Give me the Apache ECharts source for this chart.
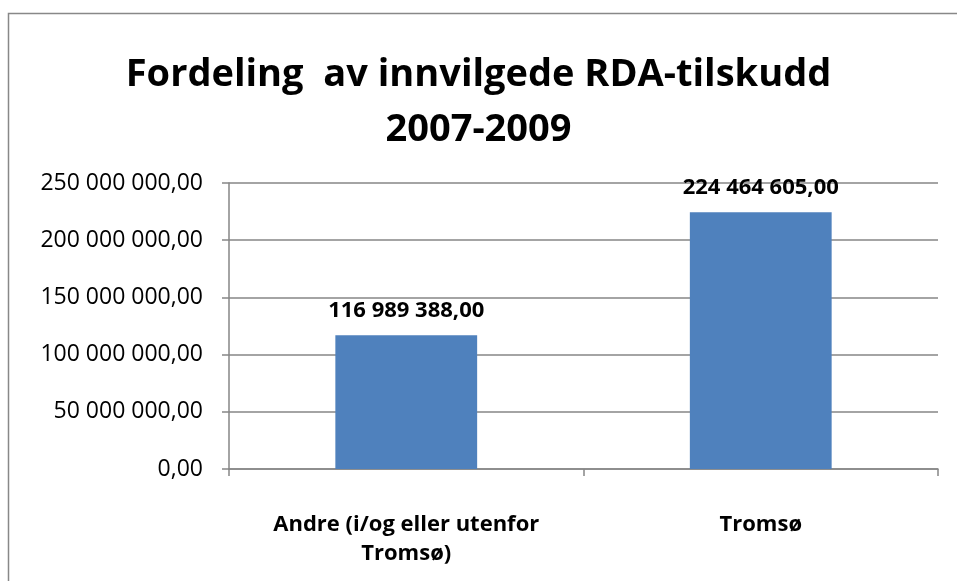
<!DOCTYPE html>
<html>
<head>
<meta charset="utf-8">
<script src="https://cdn.jsdelivr.net/npm/echarts@6/dist/echarts.min.js"></script>
<style>
  html, body { margin: 0; padding: 0; background: #fff; }
  #chart { width: 957px; height: 581px; }
</style>
</head>
<body>
<div id="chart"></div>
<script>
const categories = ['Andre (i/og eller utenfor\nTromsø)', 'Tromsø'];
const values = [116989388, 224464605];
const yTicks = [0, 50000000, 100000000, 150000000, 200000000, 250000000];

const fmt = (v) => {
    const s = Math.round(v).toString().replace(/\B(?=(\d{3})+(?!\d))/g, ' ');
    return s + ',00';
};

const myChart = echarts.init(document.getElementById('chart'));
const font = '"Open Sans", "Liberation Sans", sans-serif';
let option = {
    animation: false,
    textStyle: { fontFamily: font },
    graphic: [
        {
            type: 'rect',
            shape: { x: 8.5, y: 13.5, width: 1000, height: 1000 },
            style: { fill: 'none', stroke: '#888', lineWidth: 1.5 }
        }
    ],
    title: {
        text: 'Fordeling  av innvilgede RDA-tilskudd\n2007-2009',
        left: 'center',
        top: 43,
        textStyle: {
            fontFamily: font,
            fontSize: 38,
            fontWeight: 'bold',
            color: '#000',
            lineHeight: 55
        }
    },
    grid: { left: 229, right: 19, top: 183, bottom: 112 },
    xAxis: {
        type: 'category',
        data: categories,
        axisLine: { lineStyle: { color: '#868686', width: 1.5 } },
        axisTick: { show: true, length: 7, lineStyle: { color: '#868686', width: 1.5 } },
        axisLabel: {
            margin: 41,
            fontFamily: font,
            fontSize: 22,
            fontWeight: 'bold',
            color: '#000',
            lineHeight: 29
        }
    },
    yAxis: {
        type: 'value',
        min: 0,
        max: yTicks[yTicks.length - 1],
        interval: yTicks[1] - yTicks[0],
        axisLine: { show: true, lineStyle: { color: '#868686', width: 1.5 } },
        axisTick: { show: true, length: 7, lineStyle: { color: '#868686', width: 1.5 } },
        splitLine: { lineStyle: { color: '#868686', width: 1.5 } },
        axisLabel: {
            margin: 26,
            fontFamily: font,
            fontSize: 23,
            color: '#000',
            formatter: fmt
        }
    },
    series: [
        {
            type: 'bar',
            data: values,
            barWidth: '40%',
            itemStyle: { color: '#4F81BD' },
            label: {
                show: true,
                position: 'top',
                distance: 13,
                fontFamily: font,
                fontSize: 22,
                fontWeight: 'bold',
                color: '#000',
                formatter: (p) => fmt(p.value)
            }
        }
    ]
};
myChart.setOption(option);
window.addEventListener('resize', () => {
    myChart.resize();
});
</script>
</body>
</html>
